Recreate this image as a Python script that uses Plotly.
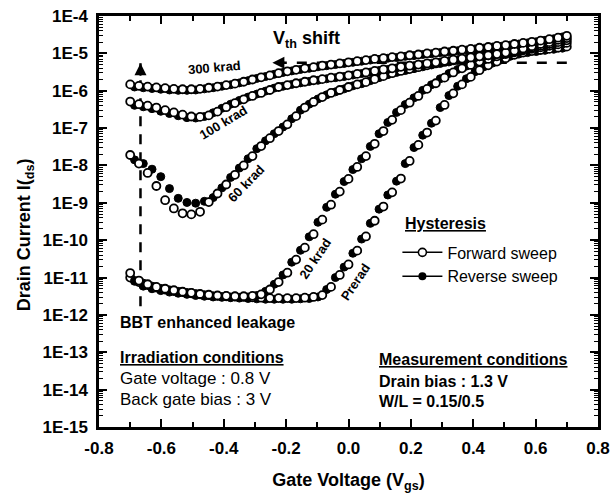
import numpy as np
import plotly.graph_objects as go

FONT = "Liberation Sans, Arial, sans-serif"

# Gate voltage points of the forward sweep (V)
vgs_fwd = [-0.700, -0.672, -0.644, -0.616, -0.588, -0.560, -0.532, -0.504, -0.476, -0.448,
           -0.420, -0.392, -0.364, -0.336, -0.308, -0.280, -0.252, -0.224, -0.196, -0.168,
           -0.140, -0.112, -0.084, -0.056, -0.028, 0.000, 0.028, 0.056, 0.084, 0.112,
           0.140, 0.168, 0.196, 0.224, 0.252, 0.280, 0.308, 0.336, 0.364, 0.392,
           0.420, 0.448, 0.476, 0.504, 0.532, 0.560, 0.588, 0.616, 0.644, 0.672, 0.700]
# Gate voltage points of the reverse sweep (V), interleaved with the forward ones
vgs_rev = [-0.686, -0.658, -0.630, -0.602, -0.574, -0.546, -0.518, -0.490, -0.462, -0.434,
           -0.406, -0.378, -0.350, -0.322, -0.294, -0.266, -0.238, -0.210, -0.182, -0.154,
           -0.126, -0.098, -0.070, -0.042, -0.014, 0.014, 0.042, 0.070, 0.098, 0.126,
           0.154, 0.182, 0.210, 0.238, 0.266, 0.294, 0.322, 0.350, 0.378, 0.406,
           0.434, 0.462, 0.490, 0.518, 0.546, 0.574, 0.602, 0.630, 0.658, 0.686]

# Drain current as log10(Ids [A]) for each total dose
krad300_fwd = [-5.83, -5.87, -5.89, -5.91, -5.93, -5.95, -5.96, -5.96, -5.95, -5.92,
               -5.89, -5.85, -5.81, -5.76, -5.70, -5.64, -5.59, -5.53, -5.48, -5.44,
               -5.40, -5.37, -5.33, -5.30, -5.27, -5.24, -5.21, -5.18, -5.15, -5.13,
               -5.10, -5.08, -5.05, -5.03, -5.00, -4.98, -4.95, -4.93, -4.90, -4.88,
               -4.85, -4.83, -4.80, -4.78, -4.75, -4.72, -4.69, -4.66, -4.62, -4.58, -4.53]
krad300_rev = [-5.90, -5.92, -5.94, -5.96, -5.98, -5.99, -5.99, -5.98, -5.95, -5.92,
               -5.88, -5.84, -5.79, -5.73, -5.67, -5.62, -5.56, -5.51, -5.47, -5.43,
               -5.40, -5.36, -5.33, -5.30, -5.27, -5.24, -5.21, -5.18, -5.16, -5.13,
               -5.11, -5.08, -5.06, -5.03, -5.01, -4.98, -4.96, -4.93, -4.91, -4.88,
               -4.86, -4.83, -4.81, -4.78, -4.75, -4.72, -4.69, -4.65, -4.61, -4.56]

krad100_fwd = [-6.29, -6.36, -6.40, -6.45, -6.52, -6.58, -6.64, -6.69, -6.70, -6.66,
               -6.56, -6.44, -6.33, -6.23, -6.14, -6.06, -5.98, -5.90, -5.85, -5.80,
               -5.76, -5.72, -5.69, -5.65, -5.62, -5.59, -5.55, -5.51, -5.47, -5.43,
               -5.40, -5.36, -5.33, -5.30, -5.27, -5.24, -5.20, -5.17, -5.14, -5.11,
               -5.08, -5.05, -5.02, -4.98, -4.93, -4.87, -4.81, -4.75, -4.70, -4.64, -4.59]
krad100_rev = [-6.39, -6.43, -6.48, -6.55, -6.61, -6.67, -6.72, -6.73, -6.69, -6.59,
               -6.47, -6.36, -6.26, -6.17, -6.09, -6.01, -5.93, -5.88, -5.83, -5.79,
               -5.75, -5.72, -5.68, -5.65, -5.62, -5.58, -5.54, -5.50, -5.46, -5.43,
               -5.39, -5.36, -5.33, -5.30, -5.27, -5.23, -5.20, -5.17, -5.14, -5.11,
               -5.08, -5.05, -5.01, -4.96, -4.90, -4.84, -4.78, -4.73, -4.67, -4.62]

krad60_fwd = [-7.72, -7.95, -8.20, -8.55, -8.93, -9.15, -9.28, -9.31, -9.24, -8.98,
              -8.75, -8.51, -8.25, -8.00, -7.75, -7.48, -7.27, -7.08, -6.90, -6.68,
              -6.45, -6.30, -6.17, -6.06, -5.98, -5.90, -5.83, -5.77, -5.69, -5.61,
              -5.53, -5.47, -5.42, -5.37, -5.32, -5.27, -5.23, -5.19, -5.15, -5.11,
              -5.08, -5.05, -5.02, -4.99, -4.95, -4.90, -4.85, -4.80, -4.75, -4.70, -4.65]
krad60_rev = [-7.85, -7.95, -8.10, -8.30, -8.62, -8.88, -8.99, -9.01, -8.96, -8.86,
              -8.60, -8.32, -8.07, -7.82, -7.55, -7.34, -7.15, -6.97, -6.75, -6.52,
              -6.36, -6.22, -6.11, -6.03, -5.95, -5.87, -5.81, -5.73, -5.65, -5.57,
              -5.51, -5.46, -5.41, -5.36, -5.31, -5.27, -5.23, -5.19, -5.15, -5.11,
              -5.08, -5.05, -5.02, -4.98, -4.93, -4.88, -4.83, -4.78, -4.73, -4.68]

krad20_fwd = [-10.88, -11.08, -11.18, -11.25, -11.30, -11.34, -11.38, -11.41, -11.44, -11.46,
              -11.48, -11.49, -11.50, -11.50, -11.49, -11.45, -11.32, -11.12, -10.87, -10.52,
              -10.20, -9.84, -9.45, -9.05, -8.70, -8.36, -8.04, -7.75, -7.42, -7.08,
              -6.78, -6.52, -6.32, -6.14, -5.95, -5.80, -5.65, -5.51, -5.40, -5.31,
              -5.22, -5.15, -5.08, -5.02, -4.97, -4.92, -4.88, -4.84, -4.80, -4.76, -4.72]
krad20_rev = [-11.08, -11.15, -11.23, -11.29, -11.33, -11.37, -11.40, -11.43, -11.46, -11.49,
              -11.51, -11.52, -11.53, -11.52, -11.48, -11.37, -11.18, -10.93, -10.59, -10.27,
              -9.91, -9.52, -9.12, -8.77, -8.43, -8.11, -7.82, -7.49, -7.15, -6.85,
              -6.58, -6.37, -6.19, -5.99, -5.84, -5.68, -5.54, -5.43, -5.34, -5.25,
              -5.18, -5.11, -5.05, -5.00, -4.95, -4.91, -4.87, -4.83, -4.79, -4.75]

prerad_fwd = [-11.00, -11.12, -11.20, -11.27, -11.32, -11.36, -11.39, -11.42, -11.45, -11.47,
              -11.49, -11.50, -11.51, -11.52, -11.53, -11.54, -11.55, -11.55, -11.55, -11.55,
              -11.54, -11.52, -11.47, -11.25, -10.93, -10.65, -10.28, -9.90, -9.48, -9.10,
              -8.72, -8.35, -7.88, -7.45, -7.12, -6.80, -6.38, -6.07, -5.83, -5.63,
              -5.45, -5.32, -5.22, -5.13, -5.04, -4.98, -4.94, -4.91, -4.88, -4.85, -4.82]
prerad_rev = [-11.10, -11.23, -11.30, -11.35, -11.39, -11.42, -11.45, -11.48, -11.50, -11.52,
              -11.53, -11.54, -11.55, -11.56, -11.57, -11.58, -11.58, -11.58, -11.58, -11.57,
              -11.56, -11.52, -11.32, -11.00, -10.72, -10.35, -9.97, -9.55, -9.17, -8.79,
              -8.42, -7.95, -7.52, -7.19, -6.87, -6.45, -6.13, -5.88, -5.68, -5.49,
              -5.36, -5.26, -5.17, -5.08, -5.02, -4.98, -4.95, -4.92, -4.89, -4.86]

curves = [
    ("Prerad", prerad_fwd, prerad_rev),
    ("20 krad", krad20_fwd, krad20_rev),
    ("60 krad", krad60_fwd, krad60_rev),
    ("100 krad", krad100_fwd, krad100_rev),
    ("300 krad", krad300_fwd, krad300_rev),
]
for _, f, r in curves:
    assert len(f) == len(vgs_fwd) and len(r) == len(vgs_rev)

x_ticks = [-0.8, -0.6, -0.4, -0.2, 0.0, 0.2, 0.4, 0.6, 0.8]
x_tick_labels = ["-0.8", "-0.6", "-0.4", "-0.2", "0.0", "0.2", "0.4", "0.6", "0.8"]
y_ticks = [1e-15, 1e-14, 1e-13, 1e-12, 1e-11, 1e-10, 1e-9, 1e-8, 1e-7, 1e-6, 1e-5, 1e-4]
y_tick_labels = ["1E-15", "1E-14", "1E-13", "1E-12", "1E-11", "1E-10",
                 "1E-9", "1E-8", "1E-7", "1E-6", "1E-5", "1E-4"]

# Guide arrows: BBT leakage gate voltage and threshold-shift current level
bbt_vgs = -0.667
bbt_low, bbt_tip = 1.7e-12, 5.4e-6
vth_level = 5.6e-6
vth_left, vth_right = -0.244, 0.70

fig = go.Figure()

# Dashed guides first so the data markers sit on top of them
fig.add_trace(go.Scatter(
    x=[bbt_vgs, bbt_vgs], y=[bbt_low, bbt_tip], mode="lines",
    line=dict(color="black", width=2.5, dash="10px,8px"),
    showlegend=False, hoverinfo="skip"))
fig.add_trace(go.Scatter(
    x=[vth_right, vth_left], y=[vth_level, vth_level], mode="lines",
    line=dict(color="black", width=2.5, dash="10px,10px"),
    showlegend=False, hoverinfo="skip"))

for name, fwd, rev in curves:
    fig.add_trace(go.Scatter(
        x=vgs_rev, y=np.power(10.0, rev), mode="markers", name=name + " reverse",
        marker=dict(symbol="circle", size=8, color="black",
                    line=dict(width=1, color="black")),
        showlegend=False))
    fig.add_trace(go.Scatter(
        x=vgs_fwd, y=np.power(10.0, fwd), mode="markers", name=name + " forward",
        marker=dict(symbol="circle", size=8, color="white",
                    line=dict(width=1.8, color="black")),
        showlegend=False))

# Legend entries
fig.add_trace(go.Scatter(
    x=[None], y=[None], mode="lines+markers", name="Forward sweep",
    line=dict(color="black", width=1.5),
    marker=dict(symbol="circle", size=8, color="white", line=dict(width=1.6, color="black"))))
fig.add_trace(go.Scatter(
    x=[None], y=[None], mode="lines+markers", name="Reverse sweep",
    line=dict(color="black", width=1.5),
    marker=dict(symbol="circle", size=8, color="black")))

# Arrowheads at the ends of the dashed guides
fig.add_annotation(x=bbt_vgs, y=np.log10(bbt_tip), xref="x", yref="y", text="",
                   showarrow=True, arrowhead=2, arrowsize=1.2, arrowwidth=2,
                   ax=0, ay=14, arrowcolor="black", standoff=0)
fig.add_annotation(x=vth_left, y=np.log10(vth_level), xref="x", yref="y", text="",
                   showarrow=True, arrowhead=2, arrowsize=1.2, arrowwidth=2,
                   ax=14, ay=0, arrowcolor="black", standoff=0)


def note(x, y_exp, text, size=16, bold=False, angle=0, anchor="left", underline=False):
    fig.add_annotation(x=x, y=y_exp, xref="x", yref="y", text=text, showarrow=False,
                       textangle=angle, xanchor=anchor, yanchor="middle",
                       font=dict(family=FONT, size=size, color="black",
                                 weight="bold" if bold else "normal",
                                 lineposition="under" if underline else "none"))


# Dose labels along the curves
note(-0.430, -5.39, "300 krad", size=13, bold=True, angle=-5, anchor="center")
note(-0.401, -6.85, "100 krad", size=13, bold=True, angle=-31, anchor="center")
note(-0.329, -8.47, "60 krad", size=13, bold=True, angle=-46, anchor="center")
note(-0.107, -10.48, "20 krad", size=13, bold=True, angle=-56, anchor="center")
note(0.021, -11.13, "Prerad", size=13, bold=True, angle=-56, anchor="center")

note(-0.136, -4.64, "V<sub>th</sub> shift", size=18, bold=True, anchor="center")
note(-0.740, -12.21, "BBT enhanced leakage", size=16, bold=True)
note(-0.740, -13.14, "Irradiation conditions", size=16, bold=True, underline=True)
note(-0.740, -13.71, "Gate voltage : 0.8 V", size=17)
note(-0.740, -14.27, "Back gate bias : 3 V", size=17)
note(0.091, -13.20, "Measurement conditions", size=16, bold=True, underline=True)
note(0.091, -13.79, "Drain bias : 1.3 V", size=16, bold=True)
note(0.091, -14.32, "W/L = 0.15/0.5", size=16, bold=True)
note(0.174, -9.56, "Hysteresis", size=16, bold=True, underline=True)

# Y-axis title, placed a little below the axis middle
fig.add_annotation(x=-0.148, y=0.467, xref="paper", yref="paper",
                   text="<b>Drain Current I(<sub>ds</sub>)</b>", showarrow=False,
                   textangle=-90, xanchor="center", yanchor="middle",
                   font=dict(family=FONT, size=18, color="black"))

axis_common = dict(
    showline=True, linecolor="black", linewidth=2.5, mirror="ticks",
    ticks="inside", ticklen=8, tickwidth=2, tickcolor="black",
    showgrid=False, zeroline=False, automargin=False,
    tickfont=dict(family=FONT, size=17, color="black", weight="bold"),
)

fig.update_xaxes(
    range=[-0.8, 0.8], tickmode="array", tickvals=x_ticks, ticktext=x_tick_labels,
    minor=dict(ticks="inside", ticklen=5, tickwidth=1.5, tickcolor="black", dtick=0.1, tick0=-0.8),
    title=dict(text="<b>Gate Voltage (V<sub>gs</sub>)</b>", standoff=19,
               font=dict(family=FONT, size=18, color="black")),
    ticklabelstandoff=4,
    **axis_common)
fig.update_yaxes(
    type="log", range=[-15, -4], tickmode="array", tickvals=y_ticks, ticktext=y_tick_labels,
    minor=dict(ticks="inside", ticklen=4, tickwidth=1.2, tickcolor="black", dtick="D1"),
    ticklabelstandoff=5,
    **axis_common)

fig.update_layout(
    width=610, height=493,
    margin=dict(l=99, r=12, t=16, b=66, autoexpand=False),
    paper_bgcolor="white", plot_bgcolor="white",
    font=dict(family=FONT, color="black"),
    showlegend=True,
    legend=dict(x=0.598, y=0.466, xanchor="left", yanchor="top",
                bgcolor="rgba(0,0,0,0)", borderwidth=0, tracegroupgap=0,
                itemwidth=40, font=dict(family=FONT, size=16, color="black")),
)

fig.write_html("out.html")
